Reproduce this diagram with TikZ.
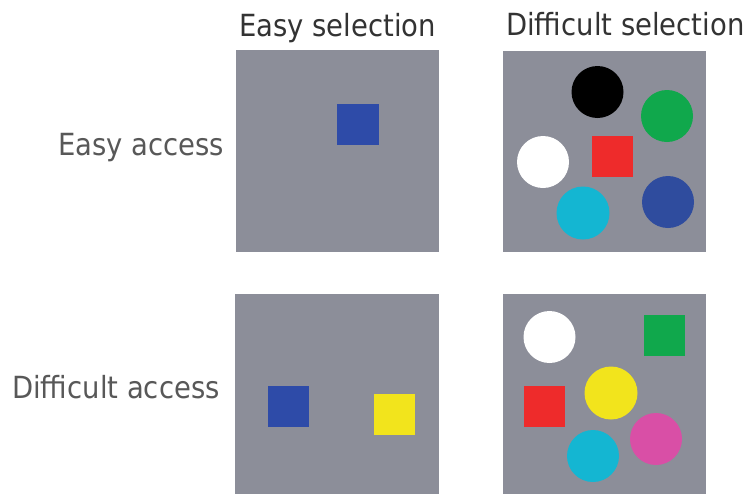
\documentclass[tikz,border=0pt]{standalone}
\usepackage{fontspec}
\setmainfont{DejaVu Sans}[FakeStretch=0.9]
\definecolor{panelgray}{HTML}{8C8E99}
\definecolor{sqblue}{HTML}{2E4BA8}
\definecolor{cblue}{HTML}{2F4C9E}
\definecolor{cgreen}{HTML}{10A84C}
\definecolor{cred}{HTML}{EE2B2B}
\definecolor{ccyan}{HTML}{14B6D2}
\definecolor{cyellow}{HTML}{F2E41C}
\definecolor{cmagenta}{HTML}{D94FA6}
\definecolor{toptext}{HTML}{333333}
\definecolor{sidetext}{HTML}{585858}
\tikzset{
  panel/.style={fill=panelgray, draw=none, rectangle, inner sep=0pt},
  sq/.style={rectangle, draw=none, inner sep=0pt, minimum width=41pt, minimum height=41pt},
  dot/.style={circle, draw=none, inner sep=0pt, minimum size=52pt},
  lbl/.style={inner sep=0pt, font=\fontsize{30.5}{36}\selectfont},
}
\begin{document}
\begin{tikzpicture}[x=1pt,y=-1pt]
\useasboundingbox (0,0) rectangle (750,493);
% labels
\node[lbl, text=toptext, anchor=base west] (ts1) at (239,36) {Easy selection};
\node[lbl, text=toptext, anchor=base west] (ts2) at (506,35) {Difficult selection};
\node[lbl, text=sidetext, anchor=base west] (la1) at (58,155) {Easy access};
\node[lbl, text=sidetext, anchor=base west] (la2) at (12,398) {Difficult access};
% panels
\node[panel, minimum width=203pt, minimum height=202pt] (p1) at (337.5,151) {};
\node[panel, minimum width=203pt, minimum height=201pt] (p2) at (604.5,151.5) {};
\node[panel, minimum width=204pt, minimum height=200pt] (p3) at (337,394) {};
\node[panel, minimum width=203pt, minimum height=200pt] (p4) at (604.5,394) {};
% panel 1
\node[sq, fill=sqblue, minimum width=42pt] (p1b) at (358,124.5) {};
% panel 2
\node[dot, fill=black] (p2k) at (597.5,92) {};
\node[dot, fill=cgreen] (p2g) at (667,116) {};
\node[dot, fill=white] (p2w) at (543,162) {};
\node[sq, fill=cred] (p2r) at (612.5,156.5) {};
\node[dot, fill=ccyan, minimum size=53pt] (p2c) at (583,213) {};
\node[dot, fill=cblue] (p2b) at (668,202) {};
% panel 3
\node[sq, fill=sqblue] (p3b) at (288.5,406.5) {};
\node[sq, fill=cyellow] (p3y) at (394.5,414) {};
% panel 4
\node[dot, fill=white] (p4w) at (549.5,337) {};
\node[sq, fill=cgreen] (p4g) at (664.5,335.5) {};
\node[dot, fill=cyellow, minimum size=53pt] (p4y) at (611,393) {};
\node[sq, fill=cred] (p4r) at (544,406.5) {};
\node[dot, fill=cmagenta] (p4m) at (656,439) {};
\node[dot, fill=ccyan] (p4c) at (593,456) {};
\end{tikzpicture}
\end{document}
